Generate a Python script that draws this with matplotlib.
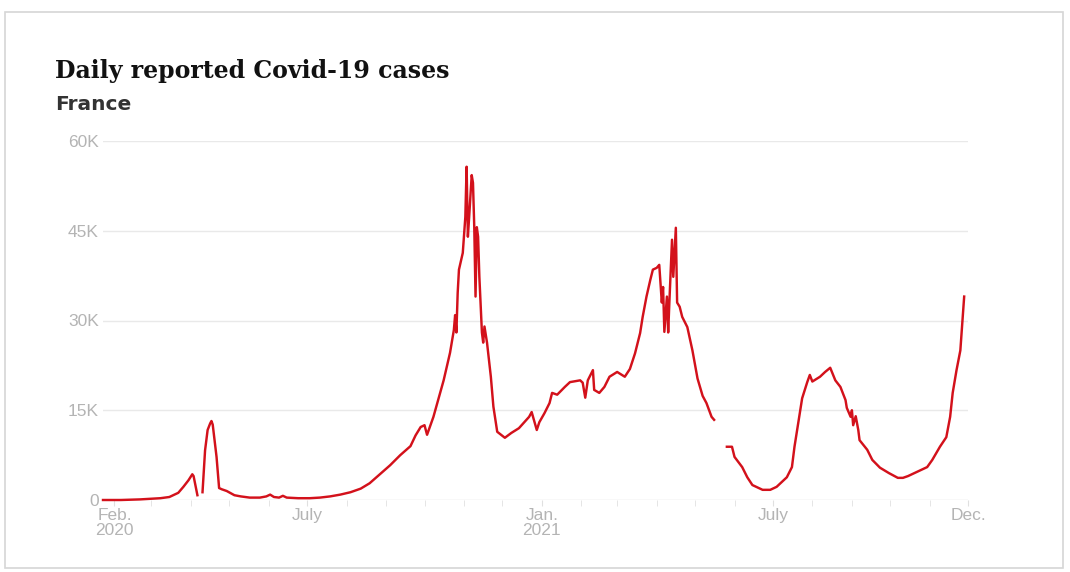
import matplotlib
matplotlib.use("Agg")
import matplotlib.pyplot as plt
import matplotlib.dates as mdates
import numpy as np
import pandas as pd
from matplotlib.patches import Rectangle

# ---- data (7-day average of daily reported cases, thousands) ----
dates = [
    "2020-01-23", "2020-02-06", "2020-02-21", "2020-02-29", "2020-03-08", "2020-03-15",
    "2020-03-22", "2020-03-26", "2020-03-30", "2020-04-02", "2020-04-03", "2020-04-06",
    "2020-04-08",
    "2020-04-10", "2020-04-12", "2020-04-14", "2020-04-16", "2020-04-17", "2020-04-18",
    "2020-04-21", "2020-04-23", "2020-04-25", "2020-04-29", "2020-05-05", "2020-05-10",
    "2020-05-17", "2020-05-25", "2020-05-30", "2020-06-02", "2020-06-05", "2020-06-09",
    "2020-06-12", "2020-06-15", "2020-06-24", "2020-07-03", "2020-07-11", "2020-07-19",
    "2020-07-27", "2020-08-04", "2020-08-12", "2020-08-19", "2020-08-27", "2020-09-04",
    "2020-09-12", "2020-09-20", "2020-09-24", "2020-09-28", "2020-10-01", "2020-10-03",
    "2020-10-08", "2020-10-11", "2020-10-16", "2020-10-21", "2020-10-24", "2020-10-25",
    "2020-10-26", "2020-10-27", "2020-10-28", "2020-10-31", "2020-11-02", "2020-11-03",
    "2020-11-04", "2020-11-05", "2020-11-07", "2020-11-08", "2020-11-09", "2020-11-10",
    "2020-11-11", "2020-11-12", "2020-11-13", "2020-11-15", "2020-11-16", "2020-11-17",
    "2020-11-19", "2020-11-22", "2020-11-24", "2020-11-27", "2020-12-03", "2020-12-08",
    "2020-12-14", "2020-12-22", "2020-12-24", "2020-12-28", "2020-12-30", "2021-01-03",
    "2021-01-07", "2021-01-09", "2021-01-13", "2021-01-19", "2021-01-23", "2021-01-31",
    "2021-02-02", "2021-02-04", "2021-02-06", "2021-02-10", "2021-02-11", "2021-02-15",
    "2021-02-19", "2021-02-23", "2021-03-01", "2021-03-07", "2021-03-11", "2021-03-15",
    "2021-03-19", "2021-03-21", "2021-03-24", "2021-03-27", "2021-03-29", "2021-04-01",
    "2021-04-03", "2021-04-05", "2021-04-06", "2021-04-07", "2021-04-09", "2021-04-10",
    "2021-04-11", "2021-04-13", "2021-04-14", "2021-04-16", "2021-04-17", "2021-04-19",
    "2021-04-21", "2021-04-25", "2021-04-29", "2021-05-03", "2021-05-07", "2021-05-10",
    "2021-05-14", "2021-05-16",
    "2021-05-20",
    "2021-05-26", "2021-05-30", "2021-06-01", "2021-06-07", "2021-06-11", "2021-06-15",
    "2021-06-23", "2021-06-29", "2021-07-04", "2021-07-08", "2021-07-12", "2021-07-16",
    "2021-07-18", "2021-07-21", "2021-07-24", "2021-07-28", "2021-07-30", "2021-08-01",
    "2021-08-07", "2021-08-11", "2021-08-15", "2021-08-19", "2021-08-23", "2021-08-27",
    "2021-08-28", "2021-08-31", "2021-09-01", "2021-09-02", "2021-09-04", "2021-09-06",
    "2021-09-07", "2021-09-13", "2021-09-17", "2021-09-23", "2021-09-30", "2021-10-07",
    "2021-10-11", "2021-10-15", "2021-10-22", "2021-10-30", "2021-11-03", "2021-11-09",
    "2021-11-14", "2021-11-17", "2021-11-19", "2021-11-22", "2021-11-25", "2021-11-28",
]
cases_k = [
    0.0, 0.0, 0.1, 0.2, 0.3, 0.5,
    1.2, 2.2, 3.3, 4.3, 4.0, 0.8,
    np.nan,
    1.3, 8.3, 11.7, 12.8, 13.2, 12.6,
    7.2, 2.0, 1.8, 1.5, 0.8, 0.6,
    0.4, 0.4, 0.6, 0.9, 0.5, 0.4,
    0.7, 0.4, 0.3, 0.3, 0.4, 0.6,
    0.9, 1.3, 1.9, 2.8, 4.3, 5.8,
    7.5, 9.0, 10.8, 12.2, 12.5, 10.9,
    13.9, 16.2, 20.0, 24.6, 28.4, 30.9,
    28.0, 34.6, 38.5, 41.3, 47.3, 55.7,
    44.0, 47.3, 54.3, 53.0, 45.6, 34.0,
    45.6, 44.0, 37.3, 28.0, 26.3, 29.0,
    26.3, 20.6, 15.6, 11.4, 10.4, 11.2,
    12.0, 13.9, 14.7, 11.7, 13.0, 14.5,
    16.2, 17.9, 17.6, 18.9, 19.7, 20.0,
    19.6, 17.1, 20.0, 21.7, 18.4, 17.9,
    18.9, 20.6, 21.4, 20.6, 21.9, 24.5,
    27.9, 30.6, 34.0, 36.8, 38.5, 38.8,
    39.3, 33.0, 35.6, 28.1, 34.0, 28.0,
    33.4, 43.5, 37.3, 45.5, 33.0, 32.3,
    30.6, 28.9, 25.0, 20.3, 17.4, 16.2,
    13.9, 13.4,
    np.nan,
    8.9, 8.9, 7.2, 5.5, 3.8, 2.5,
    1.7, 1.7, 2.2, 3.0, 3.8, 5.5,
    8.9, 12.9, 17.0, 19.7, 20.9, 19.8,
    20.6, 21.4, 22.1, 20.0, 18.9, 16.7,
    15.4, 13.9, 15.0, 12.5, 14.0, 11.7,
    10.0, 8.4, 6.7, 5.4, 4.5, 3.7,
    3.7, 4.0, 4.7, 5.5, 6.7, 8.9,
    10.5, 13.9, 17.9, 21.7, 25.0, 34.0,
]

y_ticks = [0, 15000, 30000, 45000, 60000]
y_tick_labels = ["0", "15K", "30K", "45K", "60K"]
x_tick_dates = ["2020-02-01", "2020-07-01", "2021-01-01", "2021-07-01", "2021-12-01"]
x_tick_labels = ["Feb.\n2020", "July", "Jan.\n2021", "July", "Dec."]

title = "Daily reported Covid-19 cases"
subtitle = "France"

# ---- figure ----
W, H = 1070, 572
fig = plt.figure(figsize=(W / 100, H / 100), dpi=100)
fig.patch.set_facecolor("white")

# screenshot frame
fig.patches.append(Rectangle((5 / W, 4 / H), 1058 / W, (H - 16) / H,
                             transform=fig.transFigure, fill=False,
                             edgecolor="#d6d6d6", linewidth=1.2))

left, right = 103 / W, 968 / W
bottom, top = (H - 500) / H, (H - 141) / H
ax = fig.add_axes([left, bottom, right - left, top - bottom])

x = pd.to_datetime(dates)
y = np.array(cases_k) * 1000
ax.plot(x, y, color="#d3111b", lw=1.75, solid_joinstyle="round", clip_on=False, zorder=3)

ax.set_xlim(pd.Timestamp("2020-01-23"), pd.Timestamp("2021-12-01"))
ax.set_ylim(0, 60000)

for s in ax.spines.values():
    s.set_visible(False)

for v in y_ticks[1:]:
    ax.axhline(v, color="#e9e9e9", lw=1, zorder=1)
ax.axhline(0, color="#dedede", lw=1, zorder=1)

ax.set_yticks(y_ticks)
ax.set_yticklabels(y_tick_labels, fontfamily="Liberation Sans", fontsize=12.5, color="#b4b4b4")
ax.tick_params(axis="y", length=0, pad=3)

ax.set_xticks(pd.to_datetime(x_tick_dates))
ax.set_xticklabels(x_tick_labels, fontfamily="Liberation Sans", fontsize=12.5, color="#b4b4b4",
                   linespacing=0.95)
ax.xaxis.set_minor_locator(mdates.MonthLocator())
ax.tick_params(axis="x", which="both", length=4, color="#e0e0e0", pad=2)

fig.text(55 / W, 1 - 78 / H, title, fontfamily="DejaVu Serif", fontweight="bold",
         fontsize=17, color="#111111", va="baseline", ha="left")
fig.text(55 / W, 1 - 110 / H, subtitle, fontfamily="DejaVu Sans", fontweight="bold",
         fontsize=14.5, color="#333333", va="baseline", ha="left")

fig.savefig("out.png", dpi=100, facecolor="white")
